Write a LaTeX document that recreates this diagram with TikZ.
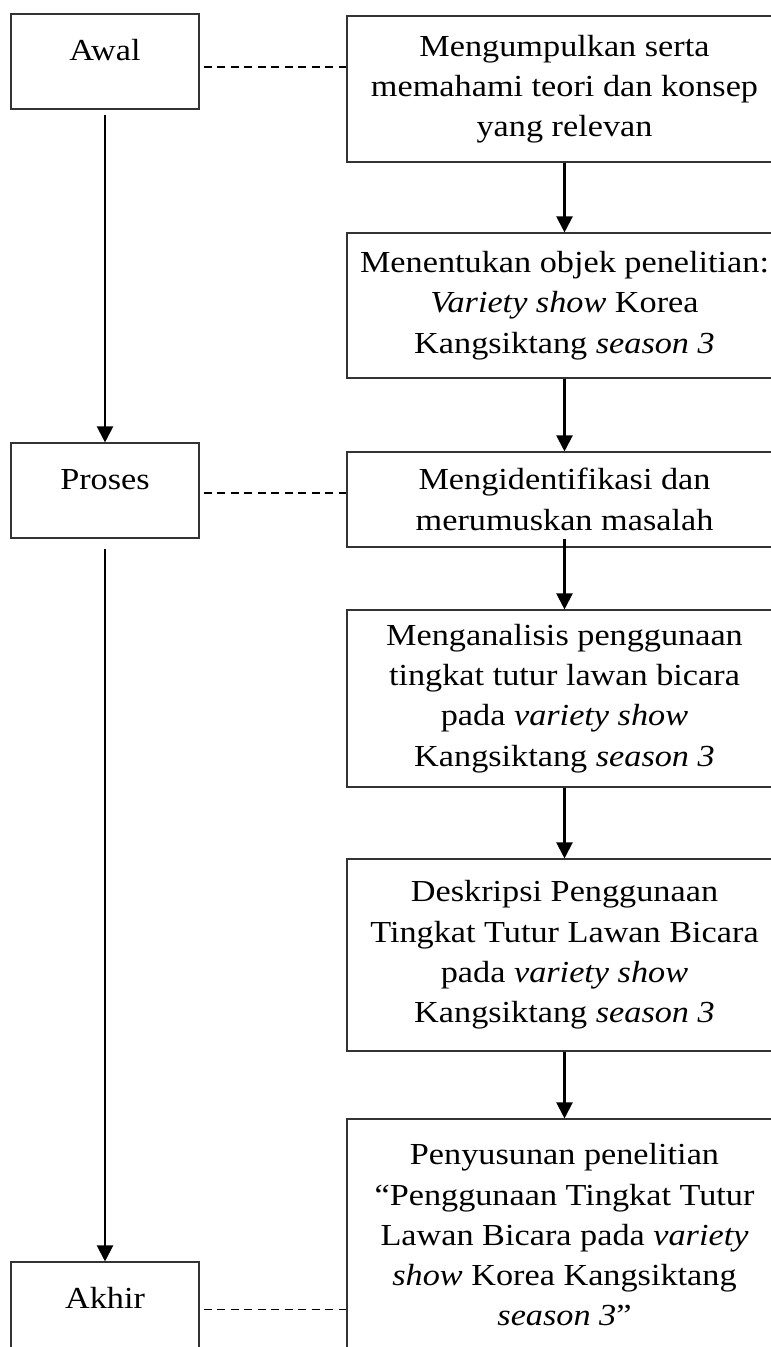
\documentclass[tikz,border=0pt]{standalone}
\usepackage{fontspec}
\setmainfont{Liberation Serif}[FakeStretch=1.12]
\usetikzlibrary{arrows.meta}

\tikzset{
    tahap/.style={draw=black!80, line width=0.6pt, minimum width=3.76cm, inner sep=0pt,
        text height=0.94cm, text depth=0.96cm},
    kegiatan/.style={draw=black!80, line width=0.6pt, minimum width=8.7cm, align=center},
    panah/.style={line width=1.2pt, -{Triangle[length=0.32cm, width=0.32cm]}},
    garis/.style={draw=black, line width=0.8pt, dash pattern=on 0.16cm off 0.11cm}
}

\begin{document}
\begin{tikzpicture}[font=\fontsize{17.4}{22.9}\selectfont]
    \useasboundingbox (0,0) rectangle (15.42,26.94);
    \clip (0,0) rectangle (15.42,26.94);

    % Tahapan
    \node[tahap] (awal) at (2.1,25.71) {Awal};
    \node[tahap] (proses) at (2.1,17.13) {Proses};
    \node[tahap] (akhir) at (2.1,0.75) {Akhir};

    % Kegiatan penelitian
    \node[kegiatan, minimum height=2.92cm] (teori) at (11.29,25.16)
        {Mengumpulkan serta\\memahami teori dan konsep\\yang relevan};
    \node[kegiatan, minimum height=2.9cm] (objek) at (11.29,20.83)
        {Menentukan objek penelitian:\\\textit{Variety show} Korea\\Kangsiktang \textit{season 3}};
    \node[kegiatan, minimum height=1.9cm] (masalah) at (11.29,16.95)
        {Mengidentifikasi dan\\merumuskan masalah};
    \node[kegiatan, minimum height=3.54cm] (analisis) at (11.29,12.97)
        {Menganalisis penggunaan\\tingkat tutur lawan bicara\\pada \textit{variety show}\\Kangsiktang \textit{season 3}};
    \node[kegiatan, minimum height=3.84cm] (deskripsi) at (11.29,7.84)
        {Deskripsi Penggunaan\\Tingkat Tutur Lawan Bicara\\pada \textit{variety show}\\Kangsiktang \textit{season 3}};
    \node[kegiatan, minimum height=4.64cm] (penyusunan) at (11.29,2.24)
        {Penyusunan penelitian\\“Penggunaan Tingkat Tutur\\Lawan Bicara pada \textit{variety}\\\textit{show} Korea Kangsiktang\\\textit{season 3}”};

    % Alur kiri
    \draw[panah, shorten <=0.1cm] (awal) -- (proses);
    \draw[panah, shorten <=0.2cm] (proses) -- (akhir);

    % Alur kanan
    \draw[panah] (teori) -- (objek);
    \draw[panah] (objek) -- (masalah);
    \draw[panah] ([yshift=0.18cm]masalah.south) -- (analisis);
    \draw[panah] (analisis) -- (deskripsi);
    \draw[panah] (deskripsi) -- (penyusunan);

    % Garis putus-putus
    \draw[garis, shorten <=0.08cm] ([yshift=-0.11cm]awal.east) -- ([yshift=-0.11cm]awal.east -| teori.west);
    \draw[garis, shorten <=0.08cm] ([yshift=-0.05cm]proses.east) -- ([yshift=-0.05cm]proses.east -| masalah.west);
    \draw[garis, shorten <=0.08cm] (akhir.east) -- (akhir.east -| penyusunan.west);
\end{tikzpicture}
\end{document}
